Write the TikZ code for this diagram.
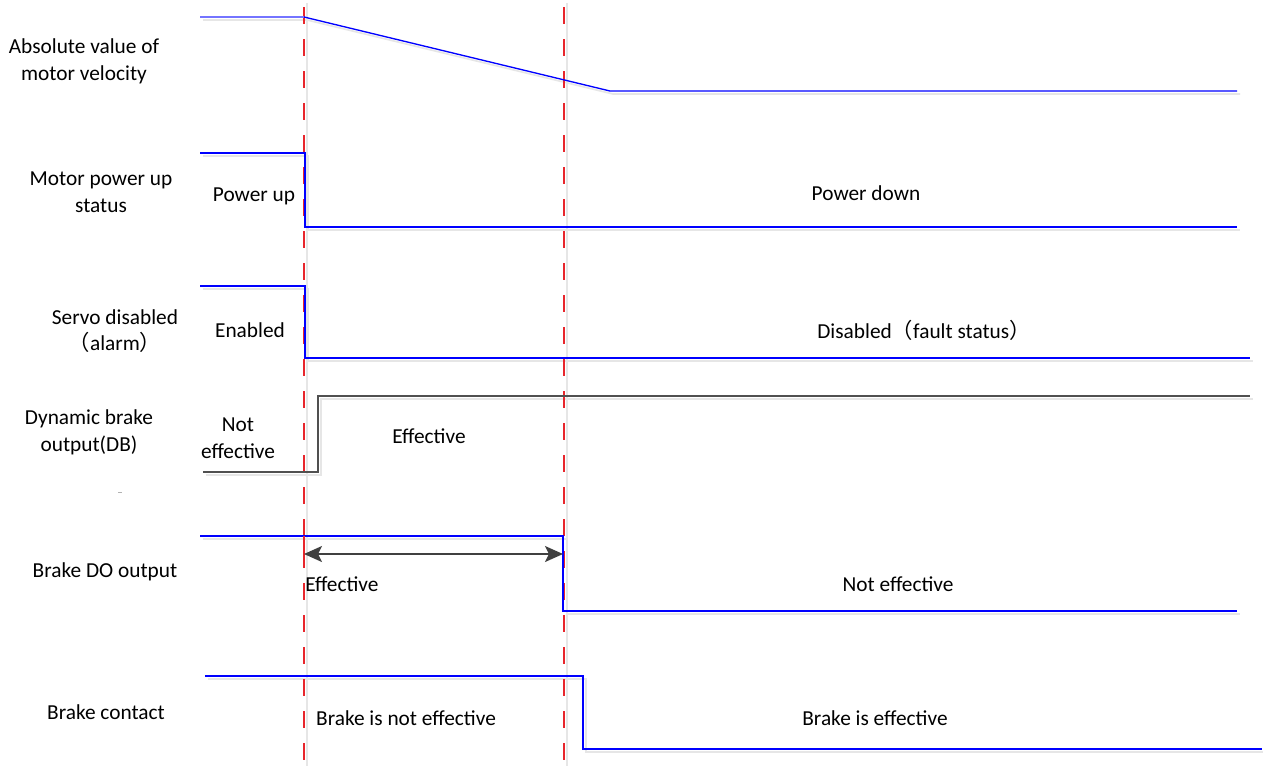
\documentclass[tikz,border=0pt]{standalone}
\usepackage{fontspec}
\setmainfont{Carlito}
\newfontfamily\cjk{Noto Sans CJK SC}
\usetikzlibrary{arrows.meta}
\definecolor{sigblue}{HTML}{0000FF}
\definecolor{lightblue}{HTML}{7474FF}
\definecolor{dbgray}{HTML}{505050}
\definecolor{markred}{HTML}{E8262C}
\definecolor{shadowgray}{HTML}{E6E6E6}
\definecolor{arrowgray}{HTML}{404040}
\begin{document}
\begin{tikzpicture}[x=0.75pt,y=-0.75pt,
  lbl/.style={font=\fontsize{16}{20}\selectfont, align=center, inner sep=0pt},
  sig/.style={sigblue, line width=1pt},
  dbsig/.style={dbgray, line width=1pt},
  shadowline/.style={draw=shadowgray, line width=1.2pt},
  marker/.style={markred, line width=0.9pt, dash pattern=on 12.75pt off 11.25pt},
  span/.style={arrowgray, line width=1.2pt, {Stealth[length=13.5pt,width=12pt,inset=3pt]}-{Stealth[length=13.5pt,width=12pt,inset=3pt]}}]
\useasboundingbox (0,0) rectangle (1263,765);
\fill[white] (0,0) rectangle (1263,765);

% soft drop shadows under the traces and time markers
\begin{scope}[shift={(3,3)}]
  \draw[shadowline] (200,17) -- (304,17) -- (610,91) -- (1237,91);
  \draw[shadowline] (200,153) -- (305,153) -- (305,227) -- (1237,227);
  \draw[shadowline] (200,286) -- (305,286) -- (305,358) -- (1250,358);
  \draw[shadowline] (203,472) -- (318,472) -- (318,396) -- (1250,396);
  \draw[shadowline] (200,536) -- (564,536) -- (564,611) -- (1237,611);
  \draw[shadowline] (205,676) -- (583,676) -- (583,749) -- (1262,749);
  \draw[shadowline] (304,0) -- (304,765);
  \draw[shadowline] (564,0) -- (564,765);
\end{scope}

% time markers
\coordinate (t1top) at (304,7);
\coordinate (t1bot) at (304,765);
\coordinate (t2top) at (564,7);
\coordinate (t2bot) at (564,765);
\draw[marker] (t1top) -- (t1bot);
\draw[marker] (t2top) -- (t2bot);

% absolute value of motor velocity
\draw[lightblue, line width=1.8pt] (200,17) -- (304,17);
\draw[sig] (304,17) -- (610,91) -- (1237,91);
% motor power up status
\draw[sig] (200,153) -- (305,153) -- (305,227) -- (1237,227);
% servo disabled (alarm)
\draw[sig] (200,286) -- (305,286) -- (305,358) -- (1250,358);
% dynamic brake output
\draw[dbsig] (203,472) -- (318,472) -- (318,396) -- (1250,396);
% brake DO output
\draw[sig] (200,536) -- (563,536) -- (563,611) -- (1237,611);
\draw[markred, line width=1pt] (304,536) -- (304,551);
% brake contact
\draw[sig, line width=1.2pt] (205,676) -- (583,676) -- (583,749) -- (1262,749);

% delay between the two markers
\coordinate (spanL) at (304,554);
\coordinate (spanR) at (563,554);
\draw[span] (spanL) -- (spanR);

% signal names
\node[lbl] (n1) at (84,61) {Absolute value of\\motor velocity};
\node[lbl] (n2) at (101,192) {Motor power up\\status};
\node[lbl] (n3) at (115,331) {Servo disabled\\{\cjk （}alarm{\cjk ）}};
\node[lbl] (n4) at (89,432) {Dynamic brake\\output(DB)};
\node[lbl] (n5) at (105,572) {Brake DO output};
\node[lbl] (n6) at (106,712) {Brake contact};
\draw[black!30, line width=0.6pt] (118,492) -- (122,492);

% state labels
\node[lbl] (s1) at (254,196) {Power up};
\node[lbl] (s2) at (866,193) {Power down};
\node[lbl] (s3) at (250,330) {Enabled};
\node[lbl] (s4) at (924,330) {Disabled{\cjk （}fault status{\cjk ）}};
\node[lbl] (s5) at (238,438) {Not\\effective};
\node[lbl] (s6) at (429,436) {Effective};
\node[lbl, anchor=west] (s7) at (305,584) {Effective};
\node[lbl] (s8) at (898,584) {Not effective};
\node[lbl] (s9) at (406,718) {Brake is not effective};
\node[lbl] (s10) at (875,718) {Brake is effective};
\end{tikzpicture}
\end{document}
